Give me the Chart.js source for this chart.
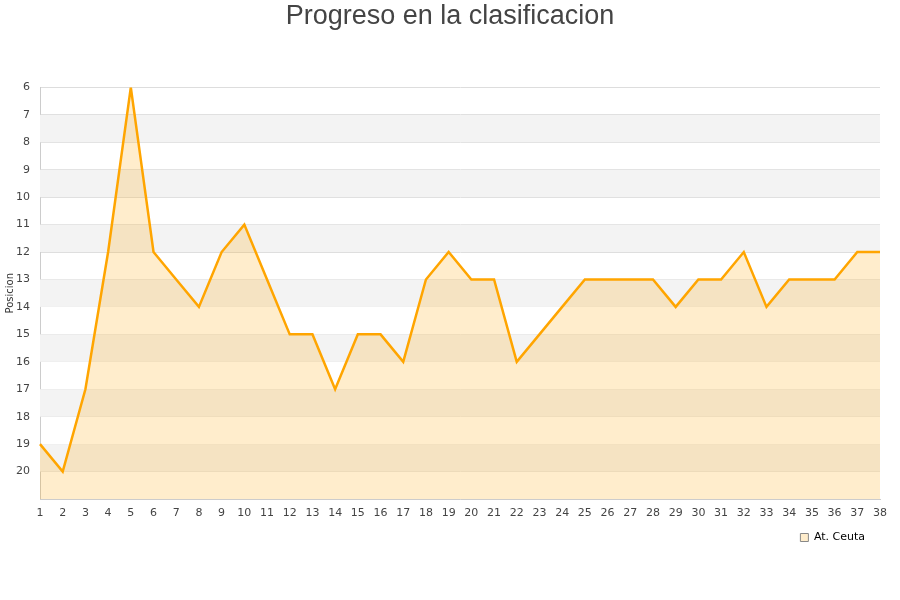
<!DOCTYPE html>
<html lang="es">
<head>
  <meta charset="UTF-8">
  <title>Progreso en la clasificacion</title>
  <script src="https://cdn.jsdelivr.net/npm/chart.js"></script>
  <style>
    body { margin: 0; background: #fff; }
    #wrap { width: 900px; height: 600px; }
  </style>
</head>
<body>
  <div id="wrap"><canvas id="posChart"></canvas></div>
  <script>
    // Jornadas y posicion del equipo en cada una
    const jornadas = [1, 2, 3, 4, 5, 6, 7, 8, 9, 10, 11, 12, 13, 14, 15, 16, 17, 18, 19,
      20, 21, 22, 23, 24, 25, 26, 27, 28, 29, 30, 31, 32, 33, 34, 35, 36, 37, 38];
    const posiciones = [19, 20, 17, 12, 6, 12, 13, 14, 12, 11, 13, 15, 15, 17, 15, 15, 16, 13, 12,
      13, 13, 16, 15, 14, 13, 13, 13, 13, 14, 13, 13, 12, 14, 13, 13, 13, 12, 12];
    const equipo = 'At. Ceuta';

    // Bandas grises alternas en el fondo
    const bandas = {
      id: 'bandas',
      beforeDatasetsDraw(chart) {
        const { ctx, chartArea, scales } = chart;
        const y = scales.y;
        ctx.save();
        ctx.fillStyle = '#f3f3f3';
        for (let v = 7; v < 21; v += 2) {
          const top = y.getPixelForValue(v);
          const bot = y.getPixelForValue(v + 1);
          ctx.fillRect(chartArea.left, top, chartArea.right - chartArea.left, bot - top);
        }
        ctx.restore();
      }
    };

    // leyenda un poco hacia la izquierda, titulo centrado en el lienzo
    const ajustes = {
      id: 'ajustes',
      afterLayout(chart) {
        chart.legend.left -= 7;
        chart.legend.right -= 7;
        chart.titleBlock.left += 8;
        chart.titleBlock.right += 8;
      }
    };

    const ctx = document.getElementById('posChart').getContext('2d');
    new Chart(ctx, {
      type: 'line',
      data: {
        labels: jornadas,
        datasets: [{
          label: equipo,
          data: posiciones,
          borderColor: '#FFA500',
          backgroundColor: 'rgba(255, 165, 0, 0.2)',
          borderWidth: 2.5,
          pointRadius: 0,
          tension: 0,
          fill: { value: 21 }
        }]
      },
      options: {
        responsive: true,
        maintainAspectRatio: false,
        animation: false,
        layout: { padding: { left: 4, right: 20, top: 0, bottom: 47 } },
        plugins: {
          title: {
            display: true,
            text: 'Progreso en la clasificacion',
            color: '#444',
            font: { family: 'Liberation Sans, Arial, sans-serif', size: 27, weight: 'normal' },
            padding: { top: 0, bottom: 55 }
          },
          legend: {
            position: 'bottom',
            align: 'end',
            labels: {
              boxWidth: 8,
              boxHeight: 8,
              padding: 8,
              color: '#222',
              font: { family: 'DejaVu Sans', size: 11 },
              generateLabels: (chart) => [{
                text: equipo,
                fillStyle: '#FFEDCC',
                strokeStyle: '#888',
                lineWidth: 1,
                datasetIndex: 0
              }]
            }
          },
          tooltip: { enabled: false }
        },
        scales: {
          x: {
            offset: false,
            grid: { display: false, drawTicks: false },
            border: { color: '#ccc' },
            afterFit: (scale) => { scale.height = 25; },
            ticks: {
              color: '#444',
              font: { family: 'DejaVu Sans', size: 11 },
              maxRotation: 0,
              autoSkip: false,
              padding: 8
            }
          },
          y: {
            reverse: true,
            min: 6,
            max: 21,
            grid: { color: '#ddd', drawTicks: false },
            border: { color: '#ccc' },
            afterFit: (scale) => { scale.width = 36; },
            title: {
              display: true,
              text: 'Posicion',
              color: '#333',
              font: { family: 'DejaVu Sans', size: 10 },
              padding: 0
            },
            ticks: {
              stepSize: 1,
              color: '#444',
              font: { family: 'DejaVu Sans', size: 11 },
              padding: 10,
              callback: (v) => (v === 21 ? '' : v)
            }
          }
        }
      },
      plugins: [bandas, ajustes]
    });
  </script>
</body>
</html>
